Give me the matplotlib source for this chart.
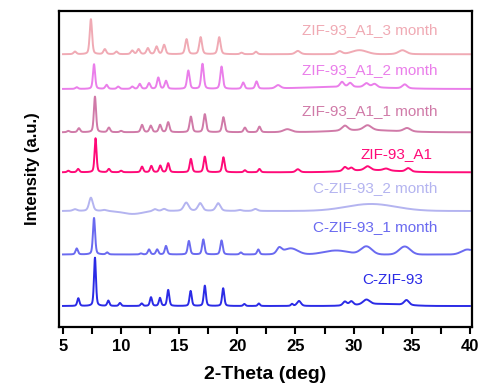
import numpy as np
import matplotlib
matplotlib.use("Agg")
import matplotlib.pyplot as plt

plt.rcParams['font.family'] = ['Liberation Sans', 'DejaVu Sans']

# series names, colours, baseline level (a.u.) and label position
names = ['C-ZIF-93', 'C-ZIF-93_1 month', 'C-ZIF-93_2 month', 'ZIF-93_A1',
         'ZIF-93_A1_1 month', 'ZIF-93_A1_2 month', 'ZIF-93_A1_3 month']
colors = ['#2b2be6', '#6a6af0', '#b4b4f0', '#ff0a78',
          '#d07aa8', '#ea7eea', '#f0aab4']
levels = [34, 85.5, 129, 167.7, 207.7, 251, 285.7]
label_x = [35.95, 37.2, 37.2, 36.8, 37.2, 37.2, 37.2]
label_y = [60, 113, 151.7, 186, 229.3, 270, 310]
widths = [0.22, 0.24, 0.42, 0.24, 0.26, 0.26, 0.28]

# peak lists: (2-theta, height, fwhm or None)
peaks = [
    [(6.32, 7.7, None), (7.75, 48.3, 0.2), (8.9, 5.3, None), (9.9, 3, None),
     (11.77, 2.5, None), (12.57, 8.7, None), (13.34, 8, None), (14.05, 16, None),
     (15.98, 15, None), (17.2, 20.3, None), (18.78, 17.7, None), (20.6, 2, None),
     (21.85, 2.5, None), (24.7, 2, None), (25.3, 5, 0.4), (29.25, 4, 0.4),
     (29.8, 4, 0.4), (31.1, 5, 0.7), (34.55, 5, 0.5), (32.5, 2, 4.0)],
    [(6.18, 6, None), (7.67, 36.5, 0.22), (8.8, 2, None), (11.7, 1, None),
     (12.4, 5, None), (13.1, 5, None), (13.86, 8.5, None), (15.83, 13.5, None),
     (17.07, 15, None), (18.64, 14, None), (20.3, 2, None), (21.8, 5, None),
     (23.6, 6, 0.5), (24.6, 6, 1.4), (28.5, 4, 2.5), (31.1, 8, 1.1), (34.4, 8, 1.1),
     (39.8, 5, 1.2)],
    [(6.03, 1.7, None), (7.4, 13.3, 0.38), (8.55, 1, None), (11.0, -3, 2.0),
     (12.9, 2, None), (13.7, 2, None), (15.6, 8.3, 0.5), (16.8, 7.7, 0.45),
     (18.35, 7.7, 0.45), (20.2, 1, None), (21.55, 2, None), (31.5, 7, 5.0)],
    [(5.46, 1.5, None), (6.3, 3.3, None), (7.8, 34, 0.2), (8.95, 3.3, None),
     (10.0, 1.5, None), (11.8, 5.6, None), (12.6, 6.3, None), (13.37, 6.6, None),
     (14.05, 9, None), (16.0, 13.3, None), (17.2, 15.6, None), (18.8, 15, None),
     (20.65, 2, None), (21.9, 3.3, None), (25.2, 3, 0.4), (29.25, 4, 0.4),
     (29.8, 3, 0.4), (31.2, 4, 0.6), (32.8, 2, 0.6), (34.7, 3.5, 0.5),
     (31.5, 2, 5.0)],
    [(5.46, 1.3, None), (6.37, 4, None), (7.75, 35.6, 0.22), (8.95, 4.6, None),
     (10.0, 1.3, None), (11.8, 7.3, None), (12.55, 6.5, None), (13.35, 7.3, None),
     (14.05, 10, None), (16.0, 15.6, None), (17.2, 18, None), (18.8, 15, None),
     (20.65, 4.6, None), (21.9, 5.6, None), (24.3, 3, 0.8), (29.25, 5, 0.6),
     (31.2, 5, 0.8), (34.6, 3.5, 0.7), (31.0, 2, 6.0)],
    [(6.18, 1.7, None), (7.67, 24.7, 0.22), (8.75, 4, None), (9.75, 2.3, None),
     (10.96, 2.3, None), (11.6, 5, None), (12.4, 5.7, None), (13.2, 11.3, None),
     (13.86, 8, None), (15.78, 18.3, None), (17.0, 25, None), (18.64, 22.3, None),
     (20.5, 6.3, None), (21.65, 7.3, None), (23.5, 3.3, 0.5), (29.0, 5, 0.4),
     (29.7, 4, 0.4), (31.1, 4, 0.5), (31.8, 3.5, 0.5), (34.4, 4, 0.5),
     (29.0, 2, 8.0)],
    [(6.03, 2.6, None), (7.4, 35, 0.24), (8.6, 5, None), (9.6, 2.6, None),
     (10.96, 3.6, None), (11.5, 5, None), (12.3, 6, None), (13.05, 7.6, None),
     (13.7, 9.3, None), (15.63, 15, None), (16.84, 17, None), (18.44, 17, None),
     (20.36, 1.5, None), (21.6, 2.5, None), (25.2, 3.3, 0.5), (28.8, 3, 0.5),
     (30.5, 4, 1.5), (34.2, 4, 0.8)],
]

tt = np.linspace(5, 40, 3500)


def pattern(plist, w0):
    y = np.zeros_like(tt)
    for pos, h, w in plist:
        w = w0 if w is None else w
        g = np.exp(-4 * np.log(2) * ((tt - pos) / w) ** 2)
        l = 1 / (1 + 4 * ((tt - pos) / w) ** 2)
        y += h * (0.6 * g + 0.4 * l) if w < 1 else h * g
    return y


fig = plt.figure(figsize=(4.8, 3.9), dpi=100)
ax = fig.add_axes([0.123, 0.1615, 0.860, 0.8105])

for i in range(len(names)):
    ax.plot(tt, levels[i] + pattern(peaks[i], widths[i]), color=colors[i], lw=1.4)
    ax.text(label_x[i], label_y[i], names[i], color=colors[i], fontsize=11,
            ha='right', va='center')

ax.set_xlim(4.66, 40.17)
ax.set_ylim(13, 329)
ax.set_yticks([])
ax.set_xticks([5, 10, 15, 20, 25, 30, 35, 40])
ax.set_xticks(np.arange(7.5, 40, 5), minor=True)
ax.tick_params(axis='x', which='both', direction='out', length=5, width=1.5)
for lab in ax.get_xticklabels():
    lab.set_fontweight('bold')
    lab.set_fontsize(12)
for s in ax.spines.values():
    s.set_linewidth(1.6)

ax.set_xlabel('2-Theta (deg)', fontsize=14, fontweight='bold', labelpad=9)
ax.set_ylabel('Intensity (a.u.)', fontsize=12, fontweight='bold', labelpad=14)

fig.savefig('out.png', dpi=100)
